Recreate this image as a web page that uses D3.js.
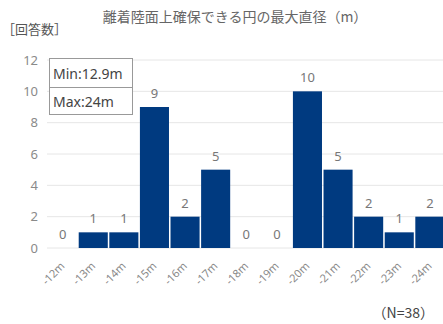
<!DOCTYPE html>
<html><head><meta charset="utf-8">
<script src="https://cdn.jsdelivr.net/npm/d3@7/dist/d3.min.js"></script>
<style>
body{margin:0;background:#fff;}
text{font-family:"Noto Sans CJK JP","Noto Sans",sans-serif;}
</style></head>
<body><svg id="c" width="443" height="324"></svg>
<script>
const categories = ["-12m","-13m","-14m","-15m","-16m","-17m","-18m","-19m","-20m","-21m","-22m","-23m","-24m"];
const values = [0,1,1,9,2,5,0,0,10,5,2,1,2];
const yTicks = [0,2,4,6,8,10,12];
const title = "離着陸面上確保できる円の最大直径（m）";
const yLabel = "［回答数］";
const legendLines = ["Min:12.9m","Max:24m"];
const note = "（N=38）";

const svg = d3.select("#c");
const x = d3.scaleBand().domain(categories).range([47.5, 445]).paddingInner(0.05).paddingOuter(0.02);
const y = d3.scaleLinear().domain([0,12]).range([248, 60]);

// gridlines
svg.append("g").selectAll("line").data(yTicks).join("line")
  .attr("x1",47).attr("x2",443)
  .attr("y1",d=>y(d)).attr("y2",d=>y(d))
  .attr("stroke","#e6e6e6").attr("stroke-width",1);

// y axis labels
const yAxis = d3.axisLeft(y).tickValues(yTicks).tickSize(0).tickPadding(0);
const ga = svg.append("g").attr("transform","translate(38,0)").call(yAxis);
ga.select(".domain").remove();
ga.selectAll("text").attr("fill","#8a8a8a").style("font-size","13px").style("font-family","'Noto Sans',sans-serif");

// bars
svg.append("g").selectAll("rect").data(values).join("rect")
  .attr("x",(d,i)=>x(categories[i]))
  .attr("width",x.bandwidth())
  .attr("y",d=>y(d))
  .attr("height",d=>y(0)-y(d))
  .attr("fill","#003a80");

// value labels
svg.append("g").selectAll("text").data(values).join("text")
  .attr("x",(d,i)=>x(categories[i])+x.bandwidth()/2)
  .attr("y",d=>y(d)-9)
  .attr("text-anchor","middle")
  .attr("fill","#777")
  .style("font-size","13px").style("font-family","'Noto Sans',sans-serif")
  .text(d=>d);

// x labels
const xAxis = d3.axisBottom(x).tickSize(0).tickPadding(0);
const gx = svg.append("g").attr("transform","translate(0,258)").call(xAxis);
gx.select(".domain").remove();
gx.selectAll("text")
  .attr("text-anchor","end")
  .attr("dy","0.35em")
  .attr("transform","translate(0,6) rotate(-45)")
  .attr("fill","#888")
  .style("font-size","11px").style("font-family","'Noto Sans',sans-serif");

// title
svg.append("text").attr("x",235).attr("y",22).attr("text-anchor","middle")
  .attr("fill","#666").style("font-size","14px").text(title);
svg.append("text").attr("x",2).attr("y",34)
  .attr("fill","#555").style("font-size","13px").text(yLabel);

// legend box
const lg = svg.append("g");
lg.append("rect").attr("x",49.5).attr("y",58.5).attr("width",83).attr("height",56)
  .attr("fill","#fff").attr("stroke","#999");
lg.append("line").attr("x1",49.5).attr("x2",132.5).attr("y1",87.5).attr("y2",87.5).attr("stroke","#999");
lg.selectAll("text.l").data(legendLines).join("text").attr("class","l")
  .attr("x",53).attr("y",(d,i)=>79+i*28)
  .attr("fill","#444").style("font-size","14px").style("font-family","'Noto Sans',sans-serif")
  .text(d=>d);

// note
svg.append("text").attr("x",434).attr("y",318).attr("text-anchor","end")
  .attr("fill","#444").style("font-size","14px").text(note);
</script></body></html>
